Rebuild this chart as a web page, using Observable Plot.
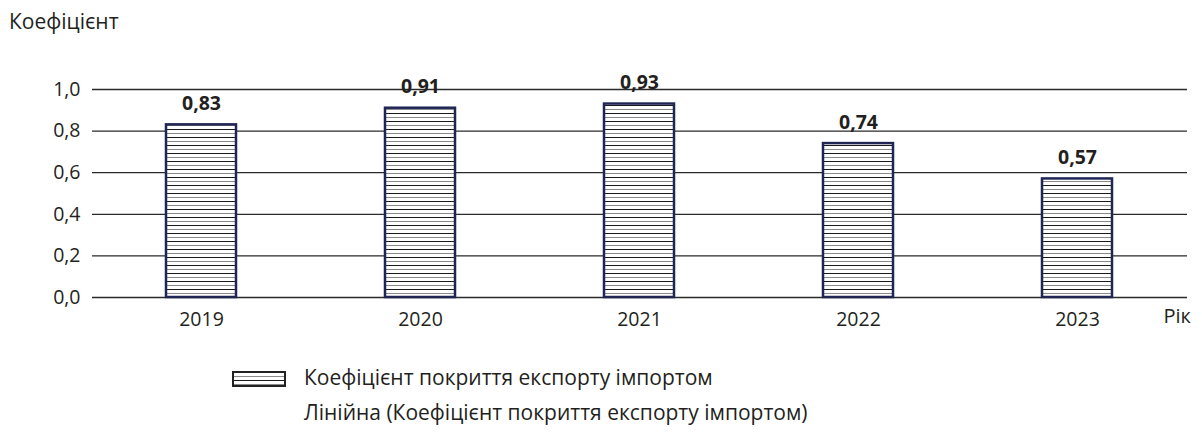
<!DOCTYPE html>
<html><head><meta charset="utf-8">
<script src="https://cdn.jsdelivr.net/npm/d3@7"></script>
<script src="https://cdn.jsdelivr.net/npm/@observablehq/plot@0.6"></script>
<style>
body{margin:0;background:#fff;font-family:"Open Sans",sans-serif;color:#231f20;}
#wrap{position:relative;width:1202px;height:436px;}
#title{position:absolute;left:9px;top:7px;font-size:21px;}
#chart{position:absolute;left:0;top:0;}
.leg{position:absolute;left:304px;font-size:21px;white-space:nowrap;}
#sw{position:absolute;left:232px;top:371px;}
</style></head>
<body>
<div id="wrap">
<div id="chart"></div>
<div id="title">Коефіцієнт</div>
<svg id="sw" width="54" height="16"></svg>
<div class="leg" style="top:363px">Коефіцієнт покриття експорту імпортом</div>
<div class="leg" style="top:398px">Лінійна (Коефіцієнт покриття експорту імпортом)</div>
</div>
<script>
const years = ["2019","2020","2021","2022","2023"];
const values = [0.83, 0.91, 0.93, 0.74, 0.57];
const labels = ["0,83","0,91","0,93","0,74","0,57"];
const yTicks = [0, 0.2, 0.4, 0.6, 0.8, 1.0];
const xLabel = "Рік";

const data = years.map((y,i)=>({year:y, value:values[i], label:labels[i]}));
const fmt = d => d.toFixed(1).replace(".", ",");

const chart = Plot.plot({
  width: 1202, height: 345,
  marginLeft: 92, marginRight: 15, marginTop: 89, marginBottom: 48,
  style: {fontFamily: "Open Sans, sans-serif", fontSize: "19px", color: "#231f20", background: "transparent"},
  x: {domain: years, paddingInner: 0.68, paddingOuter: 0.34, label: null},
  y: {domain: [0, 1], label: null},
  marks: [
    Plot.ruleY(yTicks, {stroke: "#2a2a2a", strokeWidth: 1.3}),
    Plot.axisY({ticks: yTicks, tickFormat: fmt, tickSize: 0, tickPadding: 12, fontSize: 19.5}),
    Plot.axisX({tickSize: 0, tickPadding: 15, fontSize: 19.5}),
    Plot.barY(data, {x: "year", y: "value", fill: "url(#hatch)", stroke: "#1f2656", strokeWidth: 2.5}),
    Plot.text(data, {x: "year", y: "value", text: "label", dy: -21, fontWeight: "bold", fontSize: 19.5, fill: "#231f20"}),
    Plot.text([xLabel], {frameAnchor: "bottom-right", text: d => d, dx: -24, dy: 25, textAnchor: "start", fontSize: 20, fill: "#231f20"})
  ]
});
const ns = "http://www.w3.org/2000/svg";
function addPattern(svg){
  const defs = document.createElementNS(ns, "defs");
  defs.innerHTML = `<pattern id="hatch" patternUnits="userSpaceOnUse" width="8" height="8">
    <rect width="8" height="8" fill="#fff"/>
    <line x1="0" x2="8" y1="1.5" y2="1.5" stroke="#1a1a1a" stroke-width="1"/>
    <line x1="0" x2="8" y1="5.5" y2="5.5" stroke="#8a8a8a" stroke-width="1"/>
  </pattern>`;
  svg.insertBefore(defs, svg.firstChild);
}
addPattern(chart);
document.getElementById("chart").appendChild(chart);
const sw = document.getElementById("sw");
sw.innerHTML = `<rect x="1" y="1" width="52" height="14" fill="url(#hatch)" stroke="#222" stroke-width="2"/>`;
</script>
</body></html>
